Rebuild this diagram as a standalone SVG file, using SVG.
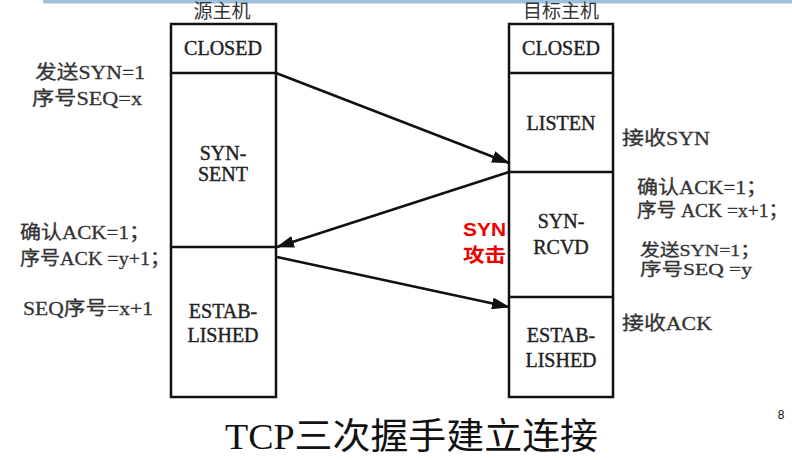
<svg xmlns="http://www.w3.org/2000/svg" width="792" height="460" viewBox="0 0 792 460">
  <defs>
    <marker id="ah" markerWidth="18" markerHeight="12" refX="17" refY="6" orient="auto" markerUnits="userSpaceOnUse">
      <path d="M0,0 L18,6 L0,12 Z" fill="#111"/>
    </marker>
    <style>
      .box { fill: #fff; stroke: #111; stroke-width: 2.5; }
      .div { stroke: #111; stroke-width: 2.5; }
      .st { font-family: "Liberation Serif", "Noto Sans CJK SC", serif; font-size: 20px; fill: #222; text-anchor: middle; stroke: #222; stroke-width: 0.4; }
      .lb { font-family: "Liberation Serif", "Noto Sans CJK SC", serif; font-size: 19px; fill: #333; stroke: #333; stroke-width: 0.3; }
      .lbs { font-family: "Liberation Serif", "Noto Sans CJK SC", serif; font-size: 17px; fill: #333; stroke: #333; stroke-width: 0.3; }
      .hd { font-family: "Liberation Serif", "Noto Sans CJK SC", serif; font-size: 19px; fill: #333; text-anchor: middle; }
      .atk { font-family: "Liberation Sans", "Noto Sans CJK SC", sans-serif; font-size: 19px; font-weight: bold; fill: #ee0000; }
      .conn { stroke: #111; stroke-width: 2.5; fill: none; marker-end: url(#ah); }
    </style>
  </defs>
  <rect width="792" height="460" fill="#fff"/>
  <rect x="43" y="0" width="749" height="3.5" fill="#9dc0dc"/>

  <g id="source-host">
    <text class="hd" x="222" y="18">源主机</text>
    <rect class="box" x="171" y="24" width="105" height="373"/>
    <line class="div" x1="171" y1="73" x2="276" y2="73"/>
    <line class="div" x1="171" y1="247" x2="276" y2="247"/>
    <text class="st" x="223" y="55">CLOSED</text>
    <text class="st" x="223" y="160">SYN-</text>
    <text class="st" x="223" y="181">SENT</text>
    <text class="st" x="223" y="318">ESTAB-</text>
    <text class="st" x="223" y="342">LISHED</text>
  </g>

  <g id="target-host">
    <text class="hd" x="561" y="18">目标主机</text>
    <rect class="box" x="509" y="24" width="104" height="373"/>
    <line class="div" x1="509" y1="73" x2="613" y2="73"/>
    <line class="div" x1="509" y1="172" x2="613" y2="172"/>
    <line class="div" x1="509" y1="297" x2="613" y2="297"/>
    <text class="st" x="561" y="55">CLOSED</text>
    <text class="st" x="561" y="130">LISTEN</text>
    <text class="st" x="561" y="228">SYN-</text>
    <text class="st" x="561" y="254">RCVD</text>
    <text class="st" x="561" y="342">ESTAB-</text>
    <text class="st" x="561" y="367">LISHED</text>
  </g>

  <g id="source-labels">
    <text class="lb" x="35" y="79" textLength="110" lengthAdjust="spacingAndGlyphs">发送SYN=1</text>
    <text class="lb" x="32" y="105" textLength="110" lengthAdjust="spacingAndGlyphs">序号SEQ=x</text>
    <text class="lb" x="20" y="239" textLength="130" lengthAdjust="spacingAndGlyphs">确认ACK=1；</text>
    <text class="lb" x="20" y="265" textLength="150" lengthAdjust="spacingAndGlyphs">序号ACK =y+1；</text>
    <text class="lb" x="23" y="315" textLength="130" lengthAdjust="spacingAndGlyphs">SEQ序号=x+1</text>
  </g>

  <g id="target-labels">
    <text class="lb" x="622" y="145" textLength="88" lengthAdjust="spacingAndGlyphs">接收SYN</text>
    <text class="lb" x="637" y="194" textLength="130" lengthAdjust="spacingAndGlyphs">确认ACK=1；</text>
    <text class="lb" x="637" y="217" textLength="151" lengthAdjust="spacingAndGlyphs">序号 ACK =x+1；</text>
    <text class="lbs" x="640" y="256" textLength="120" lengthAdjust="spacingAndGlyphs">发送SYN=1；</text>
    <text class="lbs" x="640" y="275" textLength="112" lengthAdjust="spacingAndGlyphs">序号SEQ =y</text>
    <text class="lb" x="622" y="330" textLength="90" lengthAdjust="spacingAndGlyphs">接收ACK</text>
  </g>

  <g id="syn-attack">
    <text class="atk" x="463" y="236" textLength="43" lengthAdjust="spacingAndGlyphs">SYN</text>
    <text class="atk" x="463" y="262" textLength="43" lengthAdjust="spacingAndGlyphs">攻击</text>
  </g>

  <g id="connectors">
    <line class="conn" x1="276" y1="73" x2="509" y2="163"/>
    <line class="conn" x1="509" y1="172" x2="277" y2="247"/>
    <line class="conn" x1="277" y1="257" x2="509" y2="307"/>
  </g>

  <text x="225" y="449" font-family="Liberation Serif, Noto Sans CJK SC, serif" font-size="36" fill="#111" textLength="373" lengthAdjust="spacingAndGlyphs">TCP三次握手建立连接</text>
  <text x="781" y="419" font-family="Liberation Sans, sans-serif" font-size="12" fill="#111" text-anchor="middle">8</text>
</svg>
